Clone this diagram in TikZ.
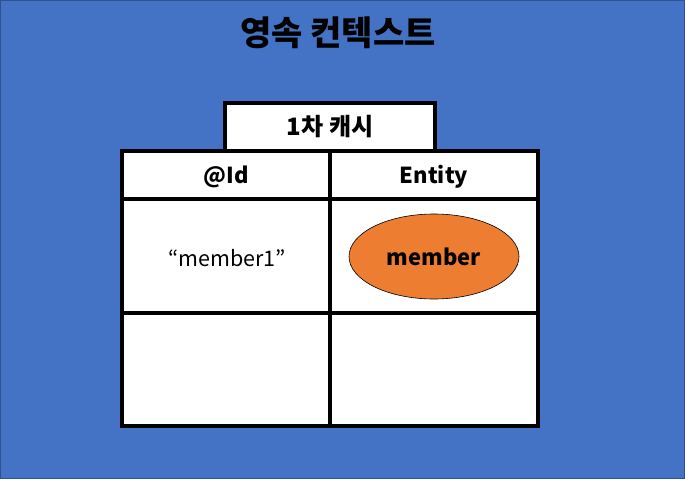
\documentclass[tikz,border=0pt]{standalone}
\usepackage{fontspec}
\setmainfont{Noto Sans CJK KR}
\usetikzlibrary{shapes.geometric}
\definecolor{bgblue}{HTML}{4472C4}
\definecolor{bgedge}{HTML}{2F528F}
\definecolor{orng}{HTML}{ED7D31}
\tikzset{
  cell/.style={draw=black, line width=4pt, fill=white},
  lbl/.style={font=\fontsize{22}{26}\selectfont\bfseries, text=black},
  plain/.style={font=\fontsize{21.5}{25}\selectfont, text=black},
}
\begin{document}
\begin{tikzpicture}[x=1pt,y=-1pt]
\useasboundingbox (0,0) rectangle (685,479);
\fill[bgblue,draw=bgedge,line width=1pt] (0.5,0.5) rectangle (684.5,478.5);
\node[font=\fontsize{34}{40}\selectfont\bfseries] (title) at (338,33) {영속 컨텍스트};
% tab
\draw[cell] (225,103) rectangle (435,151);
\node[lbl, font=\fontsize{24}{28}\selectfont\bfseries] (tab) at (330,127) {1차 캐시};
% table
\draw[cell] (122,151) rectangle (538,426);
\draw[black,line width=4pt] (122,199) -- (538,199);
\draw[black,line width=4pt] (122,313) -- (538,313);
\draw[black,line width=4pt] (330,151) -- (330,426);
\node[lbl] (idh) at (226,177) {@Id};
\node[lbl] (enth) at (434,177) {Entity};
\node[plain] (key) at (227,258) {“member1”};
\node[ellipse, draw=black, line width=0.6pt, fill=orng, minimum width=170pt, minimum height=85pt, inner sep=0pt] (ent) at (434,256.5) {};
\node[lbl] (entl) at (ent.center) {member};
\end{tikzpicture}
\end{document}
